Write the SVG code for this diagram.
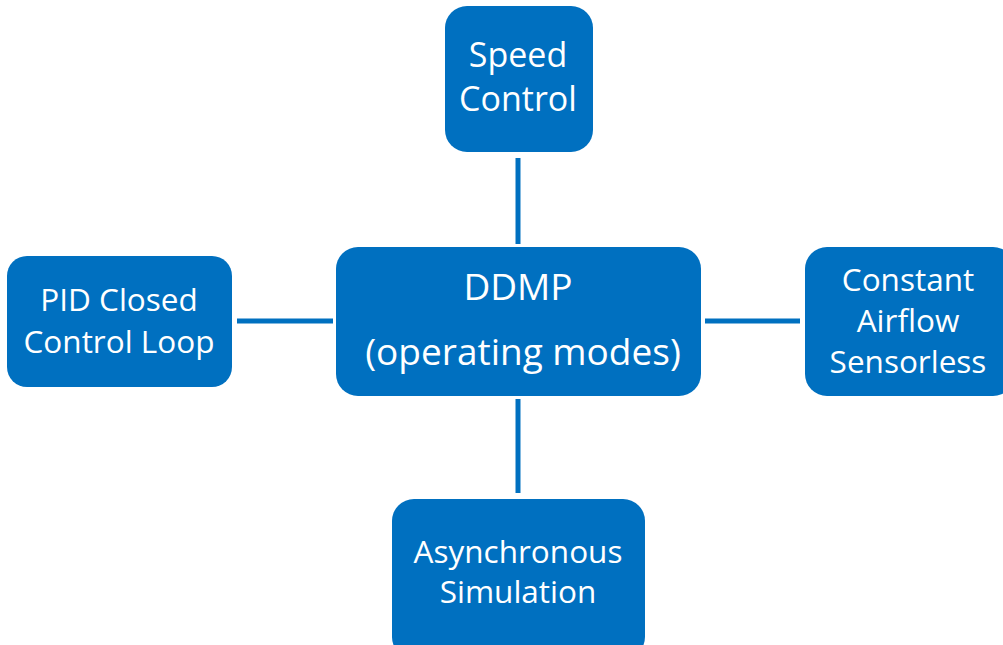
<svg xmlns="http://www.w3.org/2000/svg" width="1003" height="645" viewBox="0 0 1003 645">
<style>
.box{fill:#0070C0}
.t{fill:#fff;font-family:"Open Sans","Noto Sans","DejaVu Sans",sans-serif;text-anchor:middle}
.c{stroke:#0070C0;stroke-width:5;fill:none}
</style>
<rect width="1003" height="645" fill="#fff"/>
<g id="connectors">
<line class="c" x1="518" y1="158" x2="518" y2="244"/>
<line class="c" x1="518" y1="399" x2="518" y2="493"/>
<line class="c" x1="237" y1="321" x2="333" y2="321"/>
<line class="c" x1="705" y1="321" x2="800" y2="321"/>
</g>
<g id="ddmp">
<rect class="box" x="336" y="247" width="365" height="149" rx="22"/>
<text class="t" font-size="37" x="518" y="300">DDMP</text>
<text class="t" font-size="37" x="523" y="365">(operating modes)</text>
</g>
<g id="speed">
<rect class="box" x="445" y="6" width="148" height="146" rx="22"/>
<text class="t" font-size="34" x="518" y="67">Speed</text>
<text class="t" font-size="34" x="518" y="111">Control</text>
</g>
<g id="pid">
<rect class="box" x="7" y="256" width="225" height="131" rx="20"/>
<text class="t" font-size="31.5" x="119" y="311">PID Closed</text>
<text class="t" font-size="31.5" x="119" y="353">Control Loop</text>
</g>
<g id="airflow">
<rect class="box" x="805" y="247" width="210" height="149" rx="22"/>
<text class="t" font-size="31.5" x="908" y="291">Constant</text>
<text class="t" font-size="31.5" x="908" y="332">Airflow</text>
<text class="t" font-size="31.5" x="908" y="373">Sensorless</text>
</g>
<g id="async">
<rect class="box" x="392" y="499" width="253" height="160" rx="22"/>
<text class="t" font-size="31.5" x="518" y="563">Asynchronous</text>
<text class="t" font-size="31.5" x="518" y="603">Simulation</text>
</g>
</svg>
